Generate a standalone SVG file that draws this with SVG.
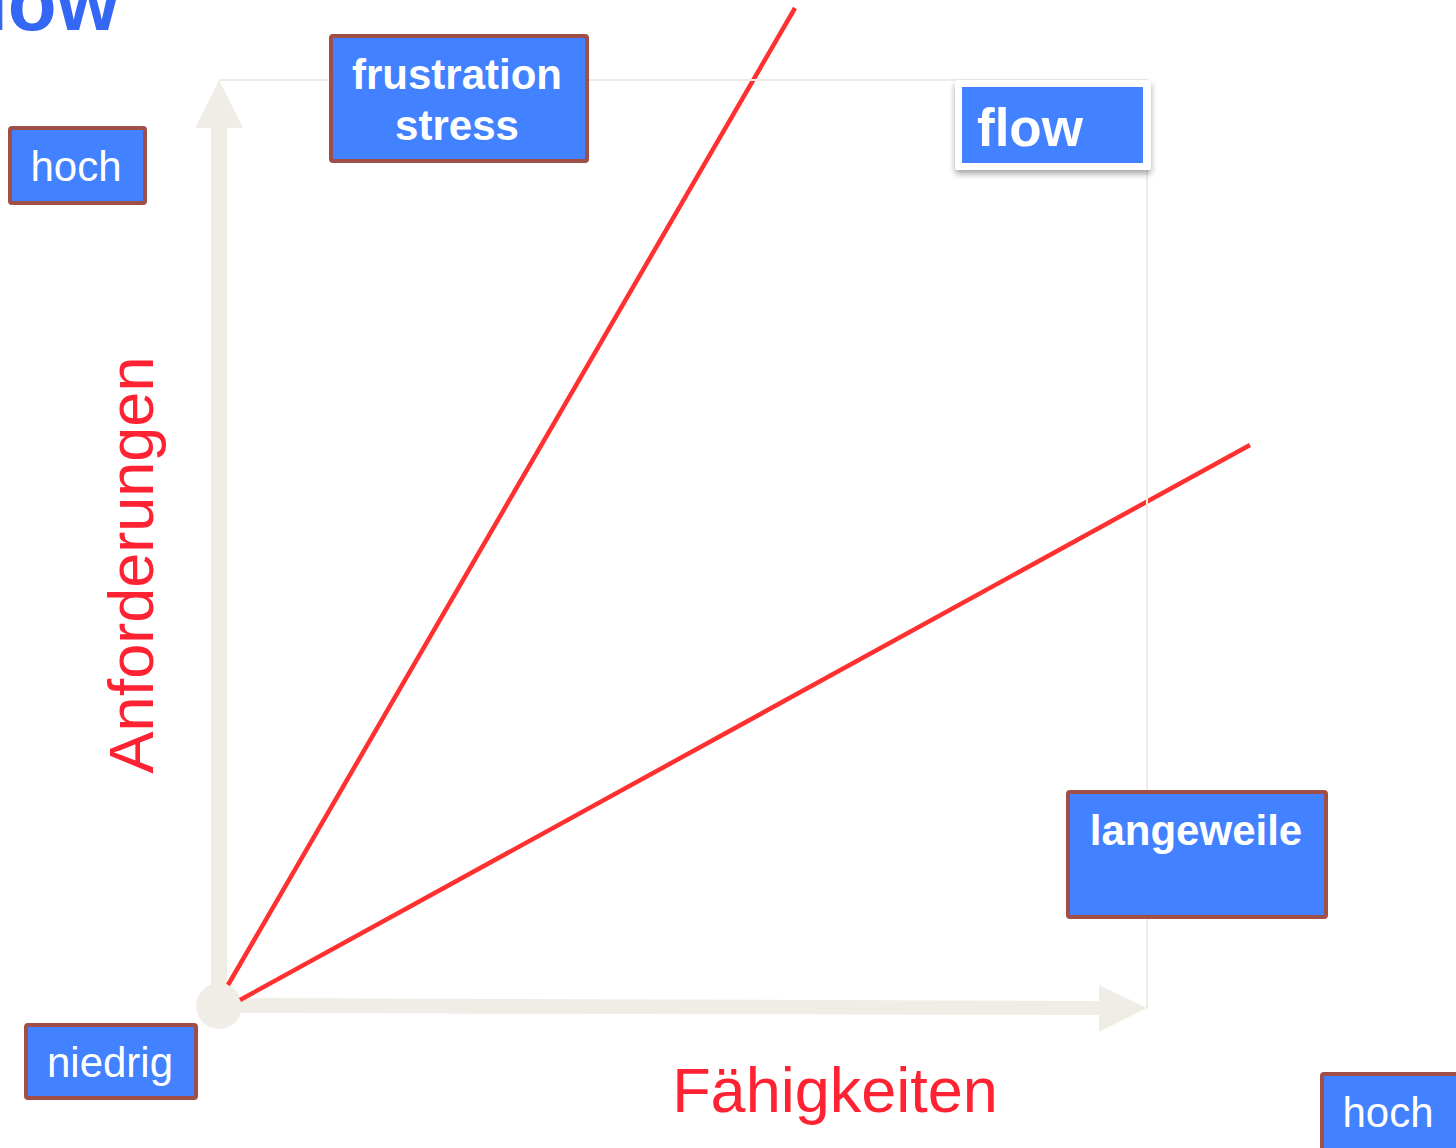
<svg xmlns="http://www.w3.org/2000/svg" width="1456" height="1148" viewBox="0 0 1456 1148">
<defs>
<style>
.box{fill:#4281FF;stroke:#A04E48;stroke-width:4}
.reg{font-family:"Liberation Sans",Arial,sans-serif;fill:#fff;text-anchor:middle}
.bold{font-family:"Liberation Sans",Arial,sans-serif;font-weight:bold;fill:#fff;text-anchor:middle}
.axis{fill:#F0EDE6}
.red{stroke:#FF3030;stroke-width:4.5;fill:none}
.lbl{font-family:"Liberation Sans",Arial,sans-serif;fill:#FF2233;font-size:63px}
</style>
<filter id="sh" x="-10%" y="-10%" width="130%" height="140%">
<feDropShadow dx="0" dy="4" stdDeviation="3" flood-color="#000" flood-opacity="0.35"/>
</filter>
</defs>
<rect width="1456" height="1148" fill="#fff"/>
<text x="-41" y="30" font-family="Liberation Sans,Arial,sans-serif" font-weight="bold" font-size="80" fill="#3567F5">flow</text>
<g id="axes">
<path class="axis" d="M211,1005 L211,128 L195,128 L219,80 L243,128 L227,128 L227,1005 Z"/>
<path class="axis" d="M219,998 L1099,1001 L1099,985 L1147,1008 L1099,1032 L1099,1015 L219,1013 Z"/>
<circle class="axis" cx="219" cy="1006" r="23"/>
</g>
<g id="connectors">
<line class="red" x1="228" y1="985" x2="795" y2="8"/>
<line class="red" x1="240" y1="1000" x2="1250" y2="445"/>
</g>
<path id="frame" d="M219,80 L1147,80 L1147,1008" fill="none" stroke="#EEEAE4" stroke-width="2"/>
<g id="hoch-top"><rect class="box" x="10" y="128" width="135" height="75" rx="2"/><text class="reg" x="76" y="181" font-size="42">hoch</text></g>
<g id="frustration"><rect class="box" x="331" y="36" width="256" height="125" rx="2"/><text class="bold" x="457" y="89" font-size="42">frustration</text><text class="bold" x="457" y="140" font-size="42">stress</text></g>
<g id="flow"><rect x="955" y="80" width="196" height="90" rx="3" fill="#fff" filter="url(#sh)"/><rect x="962" y="87" width="181" height="76" fill="#4281FF"/><text x="977" y="146" font-family="Liberation Sans,Arial,sans-serif" font-weight="bold" font-size="53" fill="#fff">flow</text></g>
<g id="langeweile"><rect class="box" x="1068" y="792" width="258" height="125" rx="2"/><text class="bold" x="1196" y="845" font-size="42">langeweile</text></g>
<g id="niedrig"><rect class="box" x="26" y="1025" width="170" height="73" rx="2"/><text class="reg" x="110" y="1077" font-size="42">niedrig</text></g>
<g id="hoch-bottom"><rect class="box" x="1322" y="1074" width="140" height="80" rx="2"/><text class="reg" x="1388" y="1127" font-size="42">hoch</text></g>
<text class="lbl" x="0" y="0" text-anchor="middle" transform="translate(153,565) rotate(-90)">Anforderungen</text>
<text class="lbl" x="835" y="1112" text-anchor="middle">Fähigkeiten</text>
</svg>
